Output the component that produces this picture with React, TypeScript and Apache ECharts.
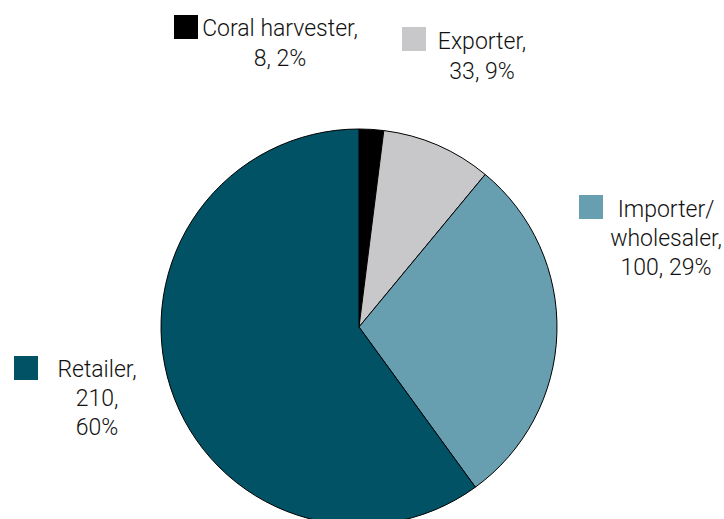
import React, { useEffect, useRef } from "react";
import * as echarts from "echarts";

const categories = ["Coral harvester", "Exporter", "Importer/\nwholesaler", "Retailer"];
const values = [8, 33, 100, 210];
const percents = [2, 9, 29, 60];
const colors = ["#000000", "#c8c8ca", "#679fb0", "#005264"];

// label layout (positions only)
const labelPos = [
  { sq: [174, 15], cx: 280, cy: 42, lh: 30 },
  { sq: [402, 27], cx: 482, cy: 55, lh: 30 },
  { sq: [579, 195], cx: 666, cy: 237, lh: 29 },
  { sq: [14, 356], cx: 97, cy: 397, lh: 29 },
];

export default function App() {
  const ref = useRef<HTMLDivElement>(null);
  useEffect(() => {
    if (!ref.current) return;
    const chart = echarts.init(ref.current, undefined, { renderer: "svg" });
    const font = "Roboto, 'Noto Sans', sans-serif";
    const graphics: any[] = [];
    categories.forEach((c, i) => {
      const p = labelPos[i];
      graphics.push({
        type: "rect",
        shape: { x: p.sq[0], y: p.sq[1], width: 24, height: 24 },
        style: { fill: colors[i] },
      });
      const text =
        i === 3
          ? `${c},\n${values[i]},\n${percents[i]}%`
          : `${c},\n${values[i]}, ${percents[i]}%`;
      graphics.push({
        type: "text",
        x: p.cx,
        y: p.cy + 1,
        style: {
          text,
          fill: "#111111",
          fontSize: 23,
          fontWeight: 300,
          fontFamily: font,
          align: "center",
          verticalAlign: "middle",
          lineHeight: p.lh,
        },
      });
    });
    chart.setOption({
      animation: false,
      backgroundColor: "#ffffff",
      series: [
        {
          type: "pie",
          center: [359, 327],
          radius: 198,
          startAngle: 90,
          clockwise: true,
          label: { show: false },
          labelLine: { show: false },
          itemStyle: { borderColor: "#000000", borderWidth: 1 },
          emphasis: { disabled: true },
          data: categories.map((c, i) => ({
            name: c,
            value: percents[i],
            itemStyle: { color: colors[i] },
          })),
        },
      ],
      graphic: graphics,
    });
    return () => chart.dispose();
  }, []);
  return (
    <div
      ref={ref}
      style={{ position: "fixed", left: 0, top: 0, width: 724, height: 519 }}
    />
  );
}
